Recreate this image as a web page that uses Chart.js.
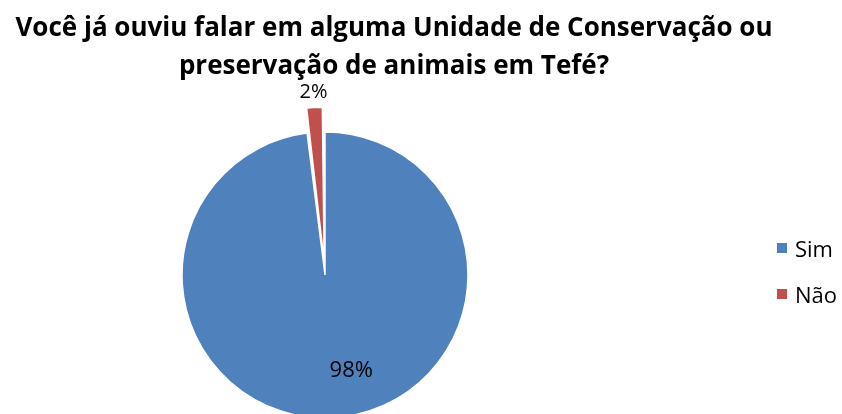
<!DOCTYPE html>
<html lang="pt-BR">
<head>
<meta charset="utf-8">
<title>Unidade de Conservação em Tefé</title>
<script src="https://cdn.jsdelivr.net/npm/chart.js@4/dist/chart.umd.min.js"></script>
<style>
    html, body {margin: 0; padding: 0; background: #fff;}
    body {width: 842px; height: 414px; position: relative; overflow: hidden; font-family: "Open Sans", Lato, sans-serif;}
    #chartBox {position: absolute; left: 0; top: 0; width: 842px; height: 414px;}
    #title {
        position: absolute; left: 0; top: 7px; width: 788px;
        text-align: center; font-weight: bold; font-size: 26px; line-height: 38px; color: #000;
    }
    #legend {position: absolute; left: 777px; top: 225px; margin: 0; padding: 0; list-style: none;}
    #legend li {display: flex; align-items: center; height: 46px; font-size: 22px; color: #000;}
    #legend span {display: inline-block; width: 10px; height: 10px; margin-right: 8px;}
</style>
</head>
<body>
<div id="chartBox"><canvas id="pieChart"></canvas></div>
<div id="title">Você já ouviu falar em alguma Unidade de Conservação ou<br>preservação de animais em Tefé?</div>
<ul id="legend"></ul>

<script>
//data
const categories = ["Sim", "Não"];
const values = [98, 2];
const colors = ["#4F81BD", "#C0504D"];
const labelPlace = ["inside", "outside"];

//percent labels on the slices
const pieLabels = {
    id: "pieLabels",
    afterDatasetsDraw(chart, args, opts) {
        const ctx = chart.ctx;
        const ds = chart.data.datasets[0];
        const total = ds.data.reduce((a, b) => a + b, 0);
        chart.getDatasetMeta(0).data.forEach((arc, i) => {
            const p = arc.getProps(["x", "y", "startAngle", "endAngle", "outerRadius", "circumference"], true);
            const mid = (p.startAngle + p.endAngle) / 2;
            // same shift the arc element uses when it draws an offset slice
            const shift = (arc.options.offset || 0) / 4;
            const grow = shift * (1 - Math.sin(Math.min(Math.PI, p.circumference)));
            const cx = p.x + Math.cos(mid) * shift;
            const cy = p.y + Math.sin(mid) * shift;
            let r, dx = 0, dy = 0, size;
            if (labelPlace[i] === "outside") {
                r = p.outerRadius + grow + 15;
                size = opts.outsideSize;
            } else {
                r = p.outerRadius * 0.7;
                dx = opts.insideShift.x;
                dy = opts.insideShift.y;
                size = opts.insideSize;
            }
            ctx.save();
            ctx.font = size + "px 'Open Sans', Lato, sans-serif";
            ctx.fillStyle = "#000";
            ctx.textAlign = "center";
            ctx.textBaseline = "middle";
            ctx.fillText(Math.round(ds.data[i] / total * 100) + "%", cx + Math.cos(mid) * r + dx, cy + Math.sin(mid) * r + dy);
            ctx.restore();
        });
    }
};

new Chart(document.getElementById("pieChart"), {
    type: "pie",
    data: {
        labels: categories,
        datasets: [{
            data: values,
            backgroundColor: colors,
            borderColor: "#fff",
            borderWidth: 1.5,
            offset: [0, 53],
            radius: 143,
            clip: false
        }]
    },
    options: {
        responsive: true,
        maintainAspectRatio: false,
        animation: false,
        layout: {padding: {top: 136, right: 192, bottom: 0, left: 0}},
        plugins: {
            legend: {display: false},
            title: {display: false},
            tooltip: {enabled: false},
            pieLabels: {insideSize: 22, outsideSize: 20, insideShift: {x: 20, y: -4}}
        }
    },
    plugins: [pieLabels]
});

//legend
const legend = document.getElementById("legend");
categories.forEach((c, i) => {
    const li = document.createElement("li");
    const box = document.createElement("span");
    box.style.background = colors[i];
    li.appendChild(box);
    li.appendChild(document.createTextNode(c));
    legend.appendChild(li);
});
</script>
</body>
</html>
